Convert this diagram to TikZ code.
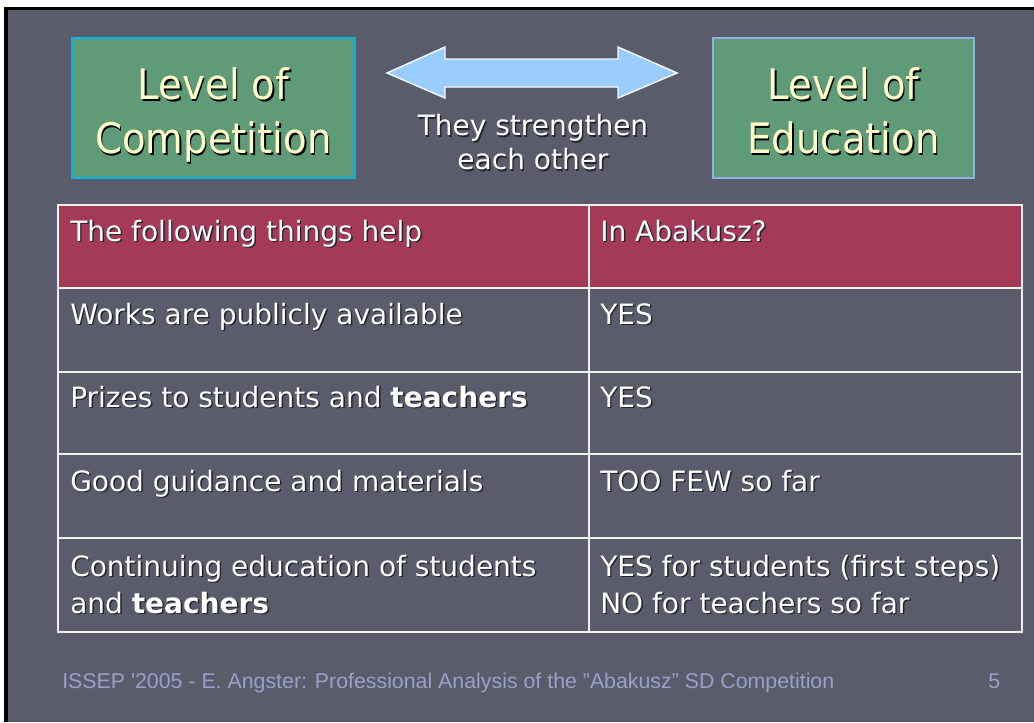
\documentclass[tikz,border=0pt]{standalone}
\usepackage{fontspec}
\setmainfont{DejaVu Sans}
\newfontfamily\boxfont[FakeStretch=0.92]{DejaVu Sans}
\newfontfamily\footfont{Liberation Sans}
\usepackage{xcolor}
\definecolor{slide-bg}{RGB}{90,92,107}
\definecolor{box-green}{RGB}{95,155,120}
\definecolor{cyan-edge}{RGB}{0,180,230}
\definecolor{blue-edge}{RGB}{141,180,226}
\definecolor{cream}{RGB}{255,255,200}
\definecolor{arrow-blue}{RGB}{153,204,255}
\definecolor{header-red}{RGB}{165,58,88}
\definecolor{footer-blue}{RGB}{154,160,200}
\definecolor{shade}{RGB}{35,35,42}
\newcommand\shadowed[2][shade]{\rlap{\kern1.1pt\raisebox{-1.1pt}{\color{#1}#2}}#2}
\tikzset{
    level-box/.style = {fill=box-green, line width=0.9pt, rectangle, inner sep=0pt},
    level-text/.style = {text=cream, font=\boxfont\fontsize{31.5}{40.5}\selectfont, align=center, inner sep=0pt},
    link-arrow/.style = {fill=arrow-blue, draw=white!90!arrow-blue, line width=1.1pt, line join=miter},
    link-text/.style = {text=white, font=\fontsize{21}{25.5}\selectfont, align=center, inner sep=0pt},
    cell-text/.style = {text=white, font=\fontsize{21}{27.75}\selectfont, anchor=base west, inner sep=0pt},
    cell-block/.style = {text=white, font=\fontsize{21}{27.75}\selectfont, align=left, anchor=north west, inner sep=0pt},
    grid-line/.style = {draw=white!94!black, line width=1.5pt},
    footer-text/.style = {text=footer-blue, font=\footfont\fontsize{16}{19}\selectfont, anchor=base west, inner sep=0pt},
}
\begin{document}
\begin{tikzpicture}[x=0.75pt, y=-0.75pt]
\useasboundingbox (0,0) rectangle (1034,722);
\fill[white] (0,0) rectangle (1034,722);
\fill[black] (4,7) rectangle (1034,722);
\fill[slide-bg] (8,10) rectangle (1034,722);

\node[level-box, draw=cyan-edge, minimum width=212.25pt, minimum height=105pt] (competition) at (213.5,108) {};
\node[level-text] (competition-text) at (competition.center) [yshift=-6pt] {\shadowed[black]{Level of}\strut\\\shadowed[black]{Competition}\strut};
\node[level-box, draw=blue-edge, minimum width=195.75pt, minimum height=105pt] (education) at (843.5,108) {};
\node[level-text] (education-text) at (education.center) [yshift=-6pt] {\shadowed[black]{Level of}\strut\\\shadowed[black]{Education}\strut};

\filldraw[link-arrow] (387,73) -- (445,47) -- (445,59) -- (618,59) -- (618,47) -- (677,73)
    -- (618,98) -- (618,87) -- (445,87) -- (445,98) -- cycle;
\node[link-text] (link-label) at (533,146) {\shadowed{They strengthen}\strut\\\shadowed{each other}\strut};

\fill[header-red] (58,205) rectangle (1022,288);
\draw[grid-line] (58,205) rectangle (1022,632);
\foreach \y in {288,372,454,538}
    \draw[grid-line] (58,\y) -- (1022,\y);
\draw[grid-line] (589,205) -- (589,632);

\node[cell-text] (help) at (70,241) {\shadowed{The following things help}};
\node[cell-text] (abakusz) at (600,241) {\shadowed{In Abakusz?}};
\node[cell-text] (works) at (70,324) {\shadowed{Works are publicly available}};
\node[cell-text] (works-yes) at (600,324) {\shadowed{YES}};
\node[cell-text] (prizes) at (70,407) {\shadowed{Prizes to students and \textbf{teachers}}};
\node[cell-text] (prizes-yes) at (600,407) {\shadowed{YES}};
\node[cell-text] (guidance) at (70,491) {\shadowed{Good guidance and materials}};
\node[cell-text] (guidance-few) at (600,491) {\shadowed{TOO FEW so far}};
\node[cell-block] (continuing) at (70,550) {\shadowed{Continuing education of students}\strut\\\shadowed{and \textbf{teachers}}\strut};
\node[cell-block] (continuing-yes) at (600,550) {\shadowed{YES for students (first steps)}\strut\\\shadowed{NO for teachers so far}\strut};

\node[footer-text] (footer) at (62,688) {ISSEP '2005 - E. Angster: Professional Analysis of the ”Abakusz” SD Competition};
\node[footer-text] (page) at (988,688) {5};
\end{tikzpicture}
\end{document}
